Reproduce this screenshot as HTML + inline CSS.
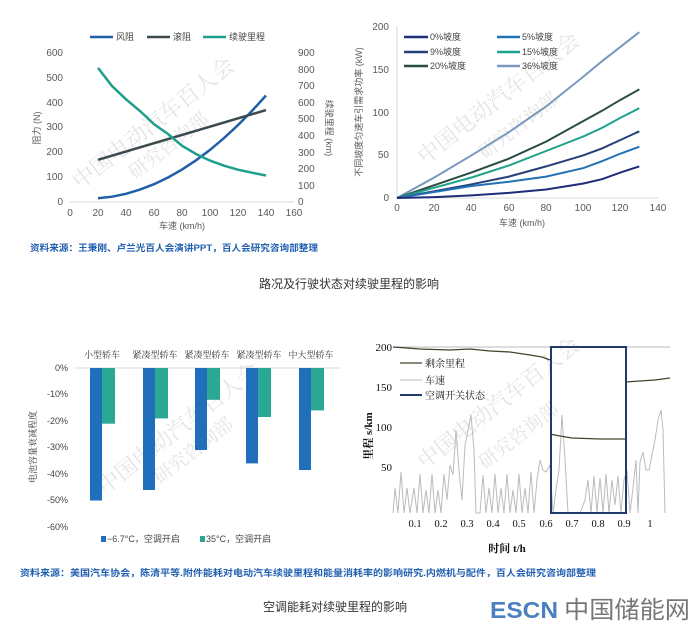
<!DOCTYPE html>
<html><head><meta charset="utf-8"><style>
body{margin:0;background:#fff;}
svg text{font-family:"Liberation Sans","Noto Sans CJK SC",sans-serif;}
svg text.s{font-family:"Liberation Serif","Noto Serif CJK SC",serif;}
</style></head><body>
<svg width="697" height="632" viewBox="0 0 697 632" xmlns="http://www.w3.org/2000/svg">
<rect width="697" height="632" fill="#fff"/>
<!-- watermarks -->
<g fill="#e4e4e4" font-size="22">
<text class="s" x="80" y="190" transform="rotate(-38 80 190)">中国电动汽车百人会</text>
<text class="s" x="135" y="180" font-size="19" transform="rotate(-38 135 180)">研究咨询部</text>
<text class="s" x="425" y="165" transform="rotate(-38 425 165)">中国电动汽车百人会</text>
<text class="s" x="485" y="160" font-size="19" transform="rotate(-38 485 160)">研究咨询部</text>
<text class="s" x="105" y="495" transform="rotate(-38 105 495)">中国电动汽车百人会</text>
<text class="s" x="160" y="485" font-size="19" transform="rotate(-38 160 485)">研究咨询部</text>
<text class="s" x="425" y="470" transform="rotate(-38 425 470)">中国电动汽车百人会</text>
<text class="s" x="485" y="470" font-size="19" transform="rotate(-38 485 470)">研究咨询部</text>
</g>

<!-- Chart 1 -->
<g font-size="10" fill="#595959">
<line x1="70" y1="202" x2="294" y2="202" stroke="#d9d9d9"/>
<g text-anchor="end">
<text x="63" y="205">0</text><text x="63" y="180">100</text><text x="63" y="155">200</text><text x="63" y="130">300</text><text x="63" y="106">400</text><text x="63" y="81">500</text><text x="63" y="56">600</text></g>
<text x="298" y="205">0</text><text x="298" y="189">100</text><text x="298" y="172">200</text><text x="298" y="156">300</text><text x="298" y="139">400</text><text x="298" y="122">500</text><text x="298" y="106">600</text><text x="298" y="89">700</text><text x="298" y="73">800</text><text x="298" y="56">900</text>
<g text-anchor="middle">
<text x="70" y="216">0</text><text x="98" y="216">20</text><text x="126" y="216">40</text><text x="154" y="216">60</text><text x="182" y="216">80</text><text x="210" y="216">100</text><text x="238" y="216">120</text><text x="266" y="216">140</text><text x="294" y="216">160</text></g>
<text x="182" y="229" text-anchor="middle" font-size="9">车速 (km/h)</text>
<text transform="translate(40 128) rotate(-90)" text-anchor="middle" font-size="9">阻力 (N)</text>
<text transform="translate(326 128) rotate(90)" text-anchor="middle" font-size="9">续驶里程 (km)</text>
</g>
<g font-size="9" fill="#444">
<line x1="90" y1="37" x2="113" y2="37" stroke="#1f5fa8" stroke-width="2.5"/><text x="116" y="40">风阻</text>
<line x1="147" y1="37" x2="170" y2="37" stroke="#3b4a4e" stroke-width="2.5"/><text x="173" y="40">滚阻</text>
<line x1="203" y1="37" x2="226" y2="37" stroke="#1f9e8a" stroke-width="2.5"/><text x="229" y="40">续驶里程</text>
</g>
<polyline fill="none" stroke="#1f5fa8" stroke-width="2.5" points="98,198.3 112,196.7 126,193.8 140,189.6 154,184.2 168,177.5 182,169.6 196,160.3 210,149.9 224,138.1 238,125.1 252,110.9 266,95.5"/>
<line x1="98" y1="159.8" x2="266" y2="110.1" stroke="#3b4a4e" stroke-width="2.5"/>
<polyline fill="none" stroke="#1f9e8a" stroke-width="2.5" points="98,67.9 112,86 126,99.3 140,111 154,124.2 168,134 182,145.7 196,154 210,160.6 224,165.7 238,169.7 252,172.7 266,175.5"/>
<text x="30" y="251" font-size="9" font-weight="bold" fill="#1f5fb0" textLength="288" lengthAdjust="spacingAndGlyphs">资料来源：王秉刚、卢兰光百人会演讲PPT，百人会研究咨询部整理</text>

<!-- Chart 2 -->
<g font-size="10" fill="#595959">
<line x1="397" y1="26" x2="397" y2="198" stroke="#d9d9d9"/>
<line x1="397" y1="198" x2="658" y2="198" stroke="#d9d9d9"/>
<g text-anchor="end">
<text x="389" y="201">0</text><text x="389" y="158">50</text><text x="389" y="116">100</text><text x="389" y="73">150</text><text x="389" y="30">200</text></g>
<g text-anchor="middle">
<text x="397" y="211">0</text><text x="434" y="211">20</text><text x="471" y="211">40</text><text x="509" y="211">60</text><text x="546" y="211">80</text><text x="583" y="211">100</text><text x="620" y="211">120</text><text x="658" y="211">140</text></g>
<text x="522" y="226" text-anchor="middle" font-size="9">车速 (km/h)</text>
<text transform="translate(362 112) rotate(-90)" text-anchor="middle" font-size="9">不同坡度匀速车引需求功率 (kW)</text>
</g>
<g font-size="9" fill="#444">
<line x1="404" y1="37" x2="428" y2="37" stroke="#1f2c7a" stroke-width="2.5"/><text x="430" y="40">0%坡度</text>
<line x1="497" y1="37" x2="520" y2="37" stroke="#2372b5" stroke-width="2.5"/><text x="522" y="40">5%坡度</text>
<line x1="404" y1="52" x2="428" y2="52" stroke="#263f7a" stroke-width="2.5"/><text x="430" y="55">9%坡度</text>
<line x1="497" y1="52" x2="520" y2="52" stroke="#1fa38a" stroke-width="2.5"/><text x="522" y="55">15%坡度</text>
<line x1="404" y1="66" x2="428" y2="66" stroke="#2d4b45" stroke-width="2.5"/><text x="430" y="69">20%坡度</text>
<line x1="497" y1="66" x2="520" y2="66" stroke="#7a97c0" stroke-width="2.5"/><text x="522" y="69">36%坡度</text>
</g>
<g fill="none" stroke-width="2">
<polyline stroke="#7a97c0" points="397,198 434.3,177.5 471.6,155.3 508.8,132.2 546.1,106.5 583.4,76.6 602,61.2 620.7,46.7 639.3,32.1"/>
<polyline stroke="#2d4b45" points="397,198 434.3,185.2 471.6,172.4 508.8,158.7 546.1,141.6 583.4,121 602,110.8 620.7,99.7 639.3,89.4"/>
<polyline stroke="#1fa38a" points="397,198 434.3,187.7 471.6,177.5 508.8,165.5 546.1,151 583.4,136.4 602,127.9 620.7,117.6 639.3,108.2"/>
<polyline stroke="#263f7a" points="397,198 434.3,191.2 471.6,184.3 508.8,176.6 546.1,166.4 583.4,155.3 602,148.4 620.7,139.9 639.3,131.3"/>
<polyline stroke="#2372b5" points="397,198 434.3,192 471.6,186 508.8,181.8 546.1,176.6 583.4,168.1 602,161.2 620.7,153.5 639.3,146.7"/>
<polyline stroke="#1f2c7a" points="397,198 434.3,197.1 471.6,195.4 508.8,192.9 546.1,189.5 583.4,183.5 602,179.2 620.7,172.4 639.3,166.4"/>
</g>

<text x="349" y="288" text-anchor="middle" font-size="12" fill="#333">路况及行驶状态对续驶里程的影响</text>

<!-- Chart 3 -->
<g font-size="9" fill="#333">
<text class="s" x="102" y="358" text-anchor="middle">小型轿车</text>
<text class="s" x="155" y="358" text-anchor="middle">紧凑型轿车</text>
<text class="s" x="207" y="358" text-anchor="middle">紧凑型轿车</text>
<text class="s" x="259" y="358" text-anchor="middle">紧凑型轿车</text>
<text class="s" x="311" y="358" text-anchor="middle">中大型轿车</text>
</g>
<line x1="74" y1="368" x2="340" y2="368" stroke="#d9d9d9"/>
<g font-size="9" fill="#444" text-anchor="end">
<text x="68" y="371">0%</text><text x="68" y="397">-10%</text><text x="68" y="424">-20%</text><text x="68" y="450">-30%</text><text x="68" y="477">-40%</text><text x="68" y="503">-50%</text><text x="68" y="530">-60%</text>
</g>
<text class="s" transform="translate(36 447) rotate(-90)" text-anchor="middle" font-size="9" fill="#333">电池容量衰减程度</text>
<g fill="#1f6fba">
<rect x="90" y="368" width="12" height="132.5"/><rect x="143" y="368" width="12" height="122"/><rect x="195" y="368" width="12" height="82"/><rect x="246" y="368" width="12" height="95.4"/><rect x="299" y="368" width="12" height="102"/>
</g>
<g fill="#2aa894">
<rect x="102" y="368" width="13" height="55.7"/><rect x="155" y="368" width="13" height="50.4"/><rect x="207" y="368" width="13" height="31.8"/><rect x="258" y="368" width="13" height="49"/><rect x="311" y="368" width="13" height="42.4"/>
</g>
<g font-size="9" fill="#444">
<rect x="101" y="536" width="5" height="6" fill="#1f6fba"/><text x="107" y="542">−6.7°C，空调开启</text>
<rect x="200" y="536" width="5" height="6" fill="#2aa894"/><text x="206" y="542">35°C，空调开启</text>
</g>
<text x="20" y="576" font-size="9" font-weight="bold" fill="#1f5fb0" textLength="576" lengthAdjust="spacingAndGlyphs">资料来源：美国汽车协会，陈清平等.附件能耗对电动汽车续驶里程和能量消耗率的影响研究.内燃机与配件，百人会研究咨询部整理</text>

<!-- Chart 4 -->
<line x1="393" y1="347" x2="670" y2="347" stroke="#bbb"/>
<g font-size="11" fill="#111" text-anchor="end">
<text class="s" x="392" y="351">200</text><text class="s" x="392" y="391">150</text><text class="s" x="392" y="431">100</text><text class="s" x="392" y="471">50</text>
</g>
<g font-size="10.5" fill="#111" text-anchor="middle">
<text class="s" x="415" y="527">0.1</text><text class="s" x="441" y="527">0.2</text><text class="s" x="467" y="527">0.3</text><text class="s" x="493" y="527">0.4</text><text class="s" x="519" y="527">0.5</text><text class="s" x="546" y="527">0.6</text><text class="s" x="572" y="527">0.7</text><text class="s" x="598" y="527">0.8</text><text class="s" x="624" y="527">0.9</text><text class="s" x="650" y="527">1</text>
</g>
<text class="s" x="507" y="552" text-anchor="middle" font-size="11" font-weight="bold" fill="#111">时间 t/h</text>
<text class="s" transform="translate(372 436) rotate(-90)" text-anchor="middle" font-size="11" font-weight="bold" fill="#111">里程 s/km</text>
<polyline fill="none" stroke="#bbb" stroke-width="1" points="393,513 395,488 398,513 401,472 404,513 407,488 410,513 414,488 417,513 420,474 423,513 426,490 429,513 432,474 435,513 438,490 441,513 444,474 447,500 450,465 453,475 456,430 459,470 462,500 465,445 468,430 471,415 474,450 476,513 480,513 483,475 486,513 489,488 492,513 495,474 498,513 501,488 504,513 507,474 510,513 513,490 516,513 519,474 522,513 525,488 528,513 531,472 534,513 537,480 540,460 543,470 546,472 550,465 553,513 556,490 559,470 562,415 565,460 568,513 575,513 580,513 585,500 588,480 591,513 594,476 597,513 600,478 603,513 606,474 609,513 612,480 615,505 618,476 621,513 624,480 627,470 630,513 633,488 636,460 638,513 640,462 643,452 646,470 649,470 652,455 655,440 658,420 661,410 663,430 665,513"/>
<polyline fill="none" stroke="#3a4a2a" stroke-width="1.3" points="393,347 420,349 450,350 470,349 490,351 510,352 530,355 542,357 550,360"/>
<polyline fill="none" stroke="#3a4a2a" stroke-width="1.3" points="550,434 560,436 572,438 600,439 626,439"/>
<polyline fill="none" stroke="#3a4a2a" stroke-width="1.3" points="626,382 640,381 655,380 670,378"/>
<rect x="551" y="347" width="75" height="166" fill="none" stroke="#1f3a6b" stroke-width="2"/>
<g font-size="10" fill="#111">
<line x1="400" y1="363" x2="422" y2="363" stroke="#3a4a2a" stroke-width="1.3"/><text class="s" x="425" y="367">剩余里程</text>
<line x1="400" y1="380" x2="422" y2="380" stroke="#bbb" stroke-width="1"/><text class="s" x="425" y="384">车速</text>
<line x1="400" y1="395" x2="422" y2="395" stroke="#1f3a6b" stroke-width="2"/><text class="s" x="425" y="399">空调开关状态</text>
</g>

<text x="335" y="611" text-anchor="middle" font-size="12" fill="#333">空调能耗对续驶里程的影响</text>
<text x="490" y="618" font-size="23" font-weight="bold" fill="#4a7fc0" textLength="68" lengthAdjust="spacingAndGlyphs">ESCN</text>
<text x="564" y="618" font-size="24" fill="#777" textLength="126" lengthAdjust="spacingAndGlyphs">中国储能网</text>
</svg>
</body></html>
